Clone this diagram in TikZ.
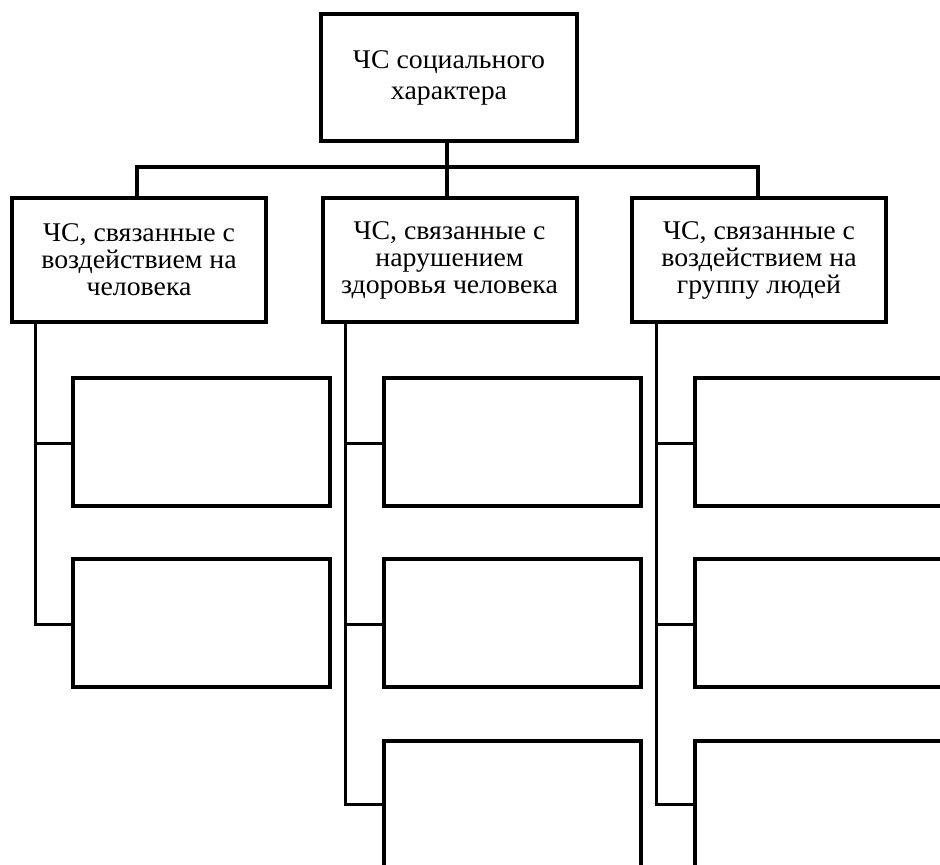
\documentclass[tikz,border=0pt]{standalone}
\usepackage{fontspec}
\setmainfont[FakeStretch=1.03]{Liberation Serif}
\begin{document}
\begin{tikzpicture}[x=1pt,y=-1pt,
  box/.style={draw=black,line width=4pt,fill=white,inner sep=0pt,align=center,
    minimum width=#1,font=\fontsize{27}{31}\selectfont},
  box/.default=254pt,
  midbox/.style={box,minimum width=254pt,minimum height=124pt,font=\fontsize{27}{27}\selectfont},
  leaf/.style={draw=black,line width=4pt,fill=white,inner sep=0pt,minimum width=257pt,minimum height=128pt},
  link/.style={draw=black,line width=3.5pt},
  wire/.style={draw=black,line width=3pt}]
\useasboundingbox (0,0) rectangle (940,865);
\clip (0,0) rectangle (940,865);
% top
\node[box=256pt,minimum height=127pt] (top) at (449,77.5) {ЧС социального\\характера};
% second row
\node[midbox] (l) at (139,260) {ЧС, связанные с\\воздействием на\\человека};
\node[midbox] (m) at (449.5,260) {ЧС, связанные с\\нарушением\\здоровья человека};
\node[midbox] (r) at (759,260) {ЧС, связанные с\\воздействием на\\группу людей};
% bus
\coordinate (bus) at (447,167);
\draw[link] (top.south -| bus) -- (bus);
\draw[link] (l.north -| 137,0) |- (bus) -| (r.north -| 758,0);
\draw[link] (bus) -- (m.north -| bus);
% leaves
\node[leaf] (l1) at (201.5,441.5) {};
\node[leaf] (l2) at (201.5,622.5) {};
\node[leaf] (m1) at (512.5,441.5) {};
\node[leaf] (m2) at (512.5,622.5) {};
\node[leaf] (m3) at (512.5,804.5) {};
\node[leaf] (r1) at (823.5,441.5) {};
\node[leaf] (r2) at (823.5,622.5) {};
\node[leaf] (r3) at (823.5,804.5) {};
% spines
\coordinate (ls) at (35,0);
\coordinate (ms) at (345,0);
\coordinate (rs) at (656,0);
\draw[wire] (l.south -| ls) |- ([yshift=-1.5pt]l2.west);
\draw[wire] ([yshift=-1.5pt]l1.west) -- ([yshift=-1.5pt]l1.west -| ls);
\draw[wire] (m.south -| ms) |- (m3.west);
\draw[wire] ([yshift=-1.5pt]m1.west) -- ([yshift=-1.5pt]m1.west -| ms);
\draw[wire] ([yshift=-1.5pt]m2.west) -- ([yshift=-1.5pt]m2.west -| ms);
\draw[wire] (r.south -| rs) |- (r3.west);
\draw[wire] ([yshift=-1.5pt]r1.west) -- ([yshift=-1.5pt]r1.west -| rs);
\draw[wire] ([yshift=-1.5pt]r2.west) -- ([yshift=-1.5pt]r2.west -| rs);
\end{tikzpicture}
\end{document}
